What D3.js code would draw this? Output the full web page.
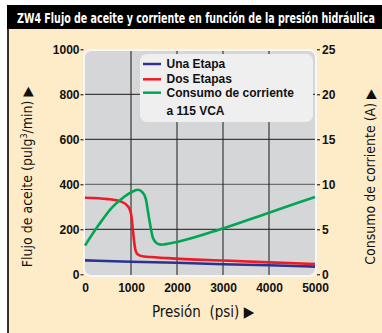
<!DOCTYPE html>
<html>
<head>
<meta charset="utf-8">
<script src="https://cdn.jsdelivr.net/npm/d3@7"></script>
<style>
  html, body { margin: 0; padding: 0; background: #fff; }
  svg { display: block; }
  text { font-family: "Liberation Sans", Arial, sans-serif; }
  .narrow { font-family: "Liberation Sans Narrow", "Arial Narrow", "DejaVu Sans Condensed", sans-serif; }
</style>
</head>
<body>
<div id="chart"></div>
<script>
// chart data
var title = "ZW4 Flujo de aceite y corriente en función de la presión hidráulica";
var pressureTicks = [0, 1000, 2000, 3000, 4000, 5000];
var flowTicks = [0, 200, 400, 600, 800, 1000];
var currentTicks = [0, 5, 10, 15, 20, 25];

// Una Etapa (flow, pulg3/min)
var unaPsi = [0, 1000, 2000, 3000, 4000, 5000];
var unaFlow = [62, 56, 51, 45, 40, 34];

// Dos Etapas (flow, pulg3/min)
var dosPsi = [0, 500, 800, 940, 1000, 1030, 1060, 1100, 1150, 1250, 1800, 3000, 4000, 5000];
var dosFlow = [340, 334, 322, 300, 270, 220, 160, 105, 88, 80, 72, 61, 53, 46];

// Consumo de corriente a 115 VCA (A)
var ampPsi = [0, 300, 600, 800, 1000, 1150, 1250, 1320, 1400, 1480, 1560, 1650, 2000, 3000, 4000, 5000];
var ampVal = [3.2, 5.5, 7.5, 8.4, 9.1, 9.4, 9.1, 8.4, 6.0, 4.0, 3.45, 3.3, 3.6, 5.1, 6.85, 8.6];

var legendLabels = ["Una Etapa", "Dos Etapas", "Consumo de corriente"];
var colors = ["#2e3192", "#ed1c24", "#00a651"];

var W = 382, H = 333;
var svg = d3.select("#chart").append("svg")
  .attr("width", W).attr("height", H);

// background panel
svg.append("rect").attr("x", 8).attr("y", 5).attr("width", W - 8).attr("height", H - 5)
  .attr("fill", "#feebc8");
svg.append("line").attr("x1", 8).attr("x2", 8).attr("y1", 5).attr("y2", H)
  .attr("stroke", "#000").attr("stroke-width", 1.6);

// title bar, squeezed horizontally to the width it has in the picture
svg.append("rect").attr("x", 7).attr("y", 5).attr("width", W - 7).attr("height", 24)
  .attr("fill", "#000");
var titleText = svg.append("text").attr("class", "narrow")
  .attr("x", 0).attr("y", 0)
  .attr("fill", "#fff").attr("font-weight", "bold").attr("font-size", 13.5)
  .text(title);
var sx = 358 / titleText.node().getComputedTextLength();
titleText.attr("transform", "translate(17,23) scale(" + sx + ",1)");

var x = d3.scaleLinear().domain([0, 5000]).range([85, 315]);
var yL = d3.scaleLinear().domain([0, 1000]).range([274.3, 49.3]);
var yR = d3.scaleLinear().domain([0, 25]).range([274.3, 49.3]);

// plot area
svg.append("rect").attr("x", 84).attr("y", 50).attr("width", 232).attr("height", 226)
  .attr("rx", 7).attr("fill", "#d5d6d8").attr("stroke", "#f7f7f7").attr("stroke-width", 2);

// grid
var grid = svg.append("g");
grid.selectAll(".h").data(flowTicks.filter(function (d) { return d > 0 && d < 1000; }))
  .enter().append("line")
  .attr("x1", 85).attr("x2", 315)
  .attr("y1", function (d) { return yL(d); }).attr("y2", function (d) { return yL(d); })
  .attr("stroke", function (d) { return d === 400 ? "#555" : "#1a1a1a"; })
  .attr("stroke-width", 1);
grid.selectAll(".v").data(pressureTicks.filter(function (d) { return d > 0 && d < 5000; }))
  .enter().append("line")
  .attr("x1", function (d) { return x(d); }).attr("x2", function (d) { return x(d); })
  .attr("y1", 275).attr("y2", 51)
  .attr("stroke", "#1a1a1a").attr("stroke-width", 1);

// legend box
var lg = svg.append("g");
lg.append("rect").attr("x", 140).attr("y", 54).attr("width", 173).attr("height", 68)
  .attr("rx", 7).attr("fill", "#efefef");
var legendY = [64, 79.3, 92.7];
legendLabels.forEach(function (t, i) {
  lg.append("line").attr("x1", 143).attr("x2", 161)
    .attr("y1", legendY[i]).attr("y2", legendY[i])
    .attr("stroke", colors[i]).attr("stroke-width", 2.5);
  lg.append("text").attr("x", 166.5).attr("y", legendY[i] + 4)
    .attr("font-weight", "bold").attr("font-size", 12).attr("fill", "#111")
    .text(t);
});
lg.append("text").attr("x", 166.5).attr("y", 115)
  .attr("font-weight", "bold").attr("font-size", 12).attr("fill", "#111")
  .text("a 115 VCA");

// series lines
var flowLine = d3.line()
  .x(function (d) { return x(d[0]); })
  .y(function (d) { return yL(d[1]); })
  .curve(d3.curveMonotoneX);
var ampLine = d3.line()
  .x(function (d) { return x(d[0]); })
  .y(function (d) { return yR(d[1]); })
  .curve(d3.curveMonotoneX);

svg.append("path").datum(d3.zip(unaPsi, unaFlow))
  .attr("d", flowLine).attr("fill", "none")
  .attr("stroke", colors[0]).attr("stroke-width", 2.6);
svg.append("path").datum(d3.zip(dosPsi, dosFlow))
  .attr("d", flowLine).attr("fill", "none")
  .attr("stroke", colors[1]).attr("stroke-width", 2.6);
svg.append("path").datum(d3.zip(ampPsi, ampVal))
  .attr("d", ampLine).attr("fill", "none")
  .attr("stroke", colors[2]).attr("stroke-width", 2.6);

// axes
var fmt = d3.format("d");
function styleAxis(g) {
  g.select(".domain").remove();
  g.selectAll(".tick line").attr("stroke", "#000");
  g.selectAll(".tick text").attr("font-weight", "bold").attr("font-size", 12)
    .attr("fill", "#111").attr("font-family", "Liberation Sans, Arial, sans-serif");
}
svg.append("g").attr("transform", "translate(83.5,0)")
  .call(d3.axisLeft(yL).tickValues(flowTicks).tickFormat(fmt).tickSize(3).tickPadding(1))
  .call(styleAxis);
svg.append("g").attr("transform", "translate(317,0)")
  .call(d3.axisRight(yR).tickValues(currentTicks).tickFormat(fmt).tickSize(3).tickPadding(2))
  .call(styleAxis);
svg.append("g").attr("transform", "translate(0,277)")
  .call(d3.axisBottom(x).tickValues(pressureTicks).tickFormat(fmt).tickSize(0).tickPadding(2))
  .call(styleAxis)
  .call(function (g) { g.selectAll(".tick text").attr("dy", null).attr("y", 14.7); });

// axis titles
svg.append("text").attr("class", "narrow")
  .attr("x", 203).attr("y", 317).attr("text-anchor", "middle")
  .attr("font-size", 15).attr("fill", "#111")
  .attr("xml:space", "preserve")
  .text("Presión  (psi) \u25B6");

svg.append("text").attr("class", "narrow")
  .attr("transform", "translate(32,177) rotate(-90)")
  .attr("text-anchor", "middle").attr("font-size", 14).attr("fill", "#111")
  .call(function (t) {
    t.append("tspan").text("Flujo de aceite (pulg");
    t.append("tspan").attr("font-size", 9).attr("dy", -5).text("3");
    t.append("tspan").attr("dy", 5).text("/min) \u25B6");
  });

svg.append("text").attr("class", "narrow")
  .attr("transform", "translate(375,177) rotate(-90)")
  .attr("text-anchor", "middle").attr("font-size", 14).attr("fill", "#111")
  .text("Consumo de corriente (A) \u25B6");
</script>
</body>
</html>
